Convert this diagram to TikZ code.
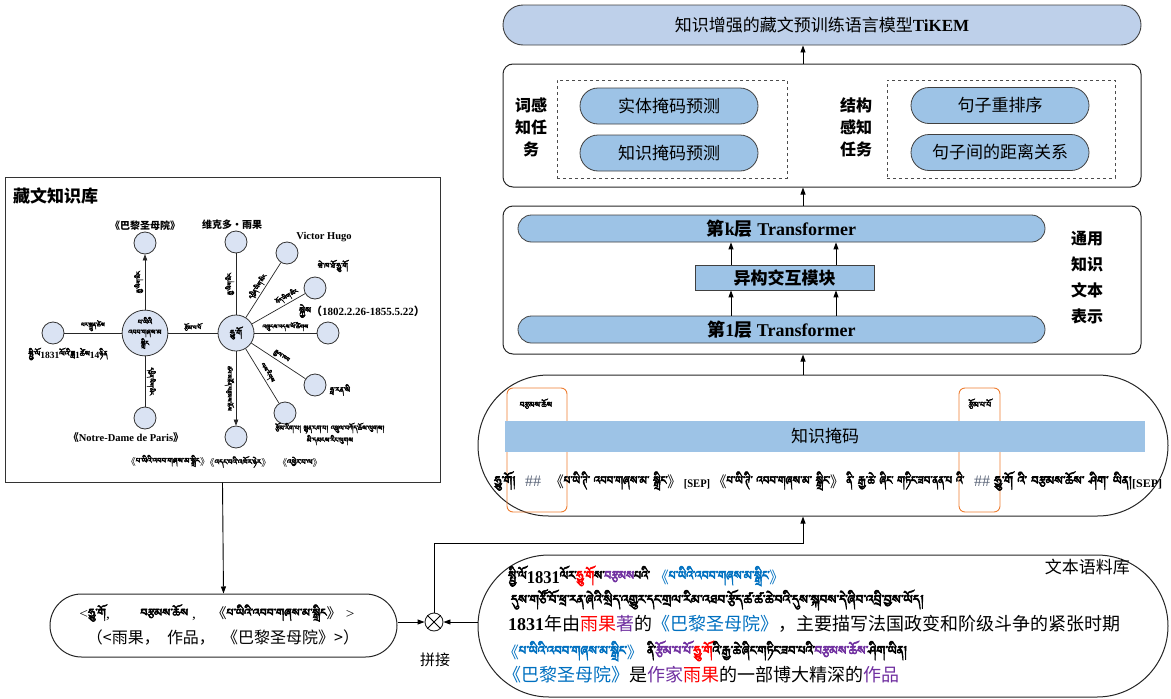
\documentclass[tikz,border=0pt]{standalone}
\usepackage{fontspec}
\usepackage{graphicx}
\setmainfont{Liberation Serif}
\newfontfamily\cjk{Noto Sans CJK SC}
\IfFontExistsTF{Jomolhari}{\newfontfamily\tib[Script=Tibetan,FakeBold=3.5]{Jomolhari}}{%
\IfFontExistsTF{Tibetan Machine Uni}{\newfontfamily\tib[Script=Tibetan,FakeBold=3.5]{Tibetan Machine Uni}}{%
\newfontfamily\tib{DejaVu Sans}}}
\usetikzlibrary{arrows.meta,shapes.misc,calc}
\definecolor{pill}{RGB}{157,195,230}
\definecolor{topfill}{RGB}{190,208,234}
\definecolor{nodefill}{RGB}{218,227,243}
\definecolor{tred}{RGB}{255,0,0}
\definecolor{tpur}{RGB}{112,48,160}
\definecolor{tblue}{RGB}{0,112,192}
\definecolor{orng}{RGB}{237,125,49}
\definecolor{hashc}{RGB}{90,100,120}
\newcommand\cn[1]{{\cjk #1}}
\newcommand\tb[1]{{\tib #1}}
\newcommand\fitw[2]{\resizebox{#1}{\height}{#2}}
\begin{document}
\begin{tikzpicture}[x=1pt,y=-1pt,
  arr/.style={-{Triangle[length=7pt,width=5pt]}, line width=0.9pt},
  garr/.style={-{Triangle[length=6pt,width=4.5pt]}, line width=0.7pt, draw=black!85},
  gl/.style={line width=0.7pt, draw=black!85},
  panel/.style={draw=black!85, line width=1pt, rounded corners=10pt, inner sep=0pt},
  stad/.style={rounded rectangle, draw=black!85, line width=1pt, inner sep=0pt},
  pillnode/.style={rounded rectangle, draw=black!75, fill=pill, line width=0.8pt, inner sep=0pt, font=\cjk\fontsize{17}{20}\selectfont},
  dbox/.style={draw=black!70, dashed, line width=0.8pt, inner sep=0pt},
  stack/.style={align=center, font=\cjk\bfseries\fontsize{16}{22}\selectfont},
  gn/.style={circle, draw=black!80, fill=nodefill, line width=0.8pt, inner sep=0pt, minimum size=22pt},
  el/.style={font=\tib\fontsize{7.5}{8}\selectfont, inner sep=1.5pt},
  lb/.style={font=\bfseries\fontsize{10}{12}\selectfont, inner sep=0pt},
  tibl/.style={font=\tib\fontsize{9.5}{11}\selectfont, inner sep=0pt},
  orbox/.style={draw=orng, rounded corners=6pt, line width=0.9pt, inner sep=0pt}
]
\useasboundingbox (0,0) rectangle (1171,699);
\coordinate (ax) at (803,0);
\coordinate (a1) at (731,0);
\coordinate (a2) at (836,0);

% ---------- top model box
\node[rounded rectangle, draw=black!75, fill=topfill, line width=0.9pt, inner sep=0pt,
      minimum width=638pt, minimum height=40pt, font=\fontsize{17}{20}\selectfont]
      (top) at (822,25) {\cn{知识增强的藏文预训练语言模型}\textbf{TiKEM}};

% ---------- tasks
\node[panel, minimum width=638pt, minimum height=123pt] (tasks) at (822,125.5) {};
\node[dbox, minimum width=230pt, minimum height=98pt] (dl) at (672,129) {};
\node[dbox, minimum width=228pt, minimum height=98pt] (dr) at (1001,129) {};
\node[pillnode, minimum width=178pt, minimum height=36pt] (p1) at (669,106) {实体掩码预测};
\node[pillnode, minimum width=178pt, minimum height=36pt] (p2) at (669,153) {知识掩码预测};
\node[pillnode, minimum width=178pt, minimum height=36pt] (p3) at (1000,105.5) {句子重排序};
\node[pillnode, minimum width=178pt, minimum height=36pt] (p4) at (1000,152.5) {句子间的距离关系};
\node[stack] (lab1) at (531,127) {词感\\知任\\务};
\node[stack] (lab2) at (856,127) {结构\\感知\\任务};
\draw[arr] (ax |- tasks.north) -- (ax |- top.south);

% ---------- transformer
\node[panel, minimum width=638pt, minimum height=148pt] (trans) at (822,280) {};
\node[rounded rectangle, draw=black!75, fill=pill, line width=0.8pt, inner sep=0pt,
      minimum width=527pt, minimum height=27pt, font=\bfseries\fontsize{18}{20}\selectfont]
      (lk) at (781.5,228.5) {\cn{第}k\cn{层} Transformer};
\node[draw=black!75, fill=pill, line width=0.8pt, inner sep=0pt,
      minimum width=179pt, minimum height=25pt, font=\cjk\bfseries\fontsize{17}{20}\selectfont]
      (mod) at (784.5,277.5) {异构交互模块};
\node[rounded rectangle, draw=black!75, fill=pill, line width=0.8pt, inner sep=0pt,
      minimum width=527pt, minimum height=27pt, font=\bfseries\fontsize{18}{20}\selectfont]
      (lone) at (781.5,329.5) {\cn{第}1\cn{层} Transformer};
\draw[arr] (a1 |- lone.north) -- (a1 |- mod.south);
\draw[arr] (a2 |- lone.north) -- (a2 |- mod.south);
\draw[arr] (a1 |- mod.north) -- (a1 |- lk.south);
\draw[arr] (a2 |- mod.north) -- (a2 |- lk.south);
\node[stack, font=\cjk\bfseries\fontsize{16}{26}\selectfont] (lab3) at (1087,278) {通用\\知识\\文本\\表示};
\draw[arr] (ax |- trans.north) -- (ax |- tasks.south);

% ---------- knowledge masking
\node[stad, minimum width=690pt, minimum height=141pt] (mask) at (823,445.5) {};
\draw[arr] (ax |- mask.north) -- (ax |- trans.south);
\node[orbox, minimum width=60pt, minimum height=124pt] (o1) at (537,450) {};
\node[orbox, minimum width=41pt, minimum height=124pt] (o2) at (979.5,450) {};
\node[font=\tib\fontsize{10}{12}\selectfont] (m1) at (536,404) {བརྩམས་ཆོས};
\node[font=\tib\fontsize{10}{12}\selectfont] (m2) at (980,404) {རྩོམ་པ་པོ};
\node[fill=pill, inner sep=0pt, minimum width=640pt, minimum height=31pt,
      font=\cjk\fontsize{17}{20}\selectfont] (bar) at (825,436.5) {知识掩码};
\node[anchor=east, font=\tib\fontsize{15}{16}\selectfont, inner sep=0pt] (t1) at (516,481) {ཧྱུ་གོ།};
\node[font=\fontsize{16}{18}\selectfont, text=hashc, inner sep=0pt] (h1) at (533,481) {\#\#};
\node[anchor=west, font=\fontsize{11.5}{14}\selectfont, inner sep=0pt] (t2) at (550,481)
  {\fitw{414pt}{\cn{\fontsize{15}{16}\selectfont《}\tb{\fontsize{15}{16}\selectfont པ་ཡི་ཊི་ འབབ་གཞས་མ་ སྒྲིང་}\cn{\fontsize{15}{16}\selectfont》} \textbf{[SEP]} \cn{\fontsize{15}{16}\selectfont《}\tb{\fontsize{15}{16}\selectfont པ་ཡི་ཊི་ འབབ་གཞས་མ་ སྒྲིང་}\cn{\fontsize{15}{16}\selectfont》} \tb{\fontsize{15}{16}\selectfont ནི་ རྒྱ་ཆེ་ ཞིང་ གཏིང་ཟབ་ནན་པ འི་}}};
\node[font=\fontsize{16}{18}\selectfont, text=hashc, inner sep=0pt] (h2) at (982,481) {\#\#};
\node[anchor=west, font=\fontsize{11.5}{14}\selectfont, inner sep=0pt] (t3) at (994,481)
  {\fitw{168pt}{\tb{\fontsize{15}{16}\selectfont ཧྱུ་གོ འི་ བརྩམས་ཆོས་ ཤིག་ ཡིན།}\textbf{[SEP]}}};

% ---------- corpus
\node[stad, minimum width=690pt, minimum height=142pt] (corp) at (823,626) {};
\node[anchor=east, font=\cjk\fontsize{17}{20}\selectfont, inner sep=0pt] (ct) at (1130,567) {文本语料库};
\node[anchor=base west, inner sep=0pt, font=\tib\fontsize{16}{16}\selectfont] (c1) at (508,583)
  {\fitw{276pt}{སྤྱི་ལོ{\rmfamily\bfseries\fontsize{18}{20}\selectfont 1831}ལོར་\textcolor{tred}{ཧྱུ་གོ}ས་\textcolor{tpur}{བརྩམས}པའི་ \textcolor{tblue}{\cn{《}པ་ཡིའི་འབབ་གཞས་མ་སྒྲིང་\cn{》}}}};
\node[anchor=base west, inner sep=0pt, font=\tib\fontsize{16}{16}\selectfont] (c2) at (511,607)
  {\fitw{413pt}{དུས་གཙོ་བོ་ཕྲ་རན་ཞེའི་སྲིད་འགྱུར་དང་གྲལ་རིམ་འཐབ་རྩོད་ཚ་ཚ་ཆེ་བའི་དུས་སྐབས་དེ་ཞིབ་འབྲི་བྱས་ཡོད།}};
\node[anchor=base west, inner sep=0pt, font=\cjk\fontsize{18}{20}\selectfont] (c3) at (508,630)
  {{\rmfamily\bfseries 1831}年由\textcolor{tred}{雨果}\textcolor{tpur}{著}的\textcolor{tblue}{《巴黎圣母院》}，主要描写法国政变和阶级斗争的紧张时期};
\node[anchor=base west, inner sep=0pt, font=\tib\fontsize{16}{16}\selectfont] (c4) at (503,658)
  {\fitw{404pt}{\textcolor{tblue}{\cn{《}པ་ཡིའི་འབབ་གཞས་མ་སྒྲིང་\cn{》}} ནི་\textcolor{tpur}{རྩོམ་པ་པོ་}\textcolor{tred}{ཧྱུ་གོ}འི་རྒྱ་ཆེ་ཞིང་གཏིང་ཟབ་པའི་\textcolor{tpur}{བརྩམས་ཆོས་}ཤིག་ཡིན།}};
\node[anchor=base west, inner sep=0pt, font=\cjk\fontsize{18}{20}\selectfont] (c5) at (503,681)
  {\textcolor{tblue}{《巴黎圣母院》}是\textcolor{tpur}{作家}\textcolor{tred}{雨果}的一部博大精深的\textcolor{tpur}{作品}};

% ---------- concat
\node[circle, draw=black!85, line width=0.9pt, minimum size=18pt, inner sep=0pt] (circ) at (434,622) {};
\draw[line width=0.8pt] (circ.north east) -- (circ.south west) (circ.north west) -- (circ.south east);
\node[font=\cjk\fontsize{15}{18}\selectfont] (pj) at (435,660) {拼接};

% ---------- triple
\node[stad, minimum width=347pt, minimum height=63pt] (tri) at (223.5,625.5) {};
\node[font=\fontsize{14}{16}\selectfont, inner sep=0pt] (tr1) at (217,613)
  {\fitw{275pt}{<\tb{\fontsize{13.5}{14}\selectfont ཧྱུ་གོ},\qquad\tb{\fontsize{13.5}{14}\selectfont བརྩམས་ཆོས} ,\quad\cn{《}\tb{\fontsize{13.5}{14}\selectfont པ་ཡིའི་འབབ་གཞས་མ་སྒྲིང}\cn{》} >}};
\node[font=\cjk\fontsize{16}{18}\selectfont, inner sep=0pt] (tr2) at (223,638)
  {（<雨果，\ \ 作品，\ \ 《巴黎圣母院》>）};

% ---------- knowledge base
\node[draw=black!80, line width=1pt, minimum width=435pt, minimum height=305pt, inner sep=0pt] (kb) at (222.5,329.5) {};
\node[anchor=west, font=\cjk\bfseries\fontsize{17}{20}\selectfont, inner sep=0pt] (kbt) at (13,196) {藏文知识库};

\node[gn, minimum size=40pt, font=\tib\fontsize{8.5}{10}\selectfont, align=center] (A) at (145,333) {པ་ཡིའི\\འབབ་གཞས་མ\\སྒྲིང};
\node[gn, minimum size=36pt, font=\tib\fontsize{10}{11}\selectfont] (B) at (236,333) {ཧྱུ་གོ};
\node[gn] (nT) at (145,243) {};
\node[gn] (nL) at (53,333) {};
\node[gn] (nB) at (145,418) {};
\node[gn] (bT) at (236,242) {};
\node[gn] (vh) at (287,253) {};
\node[gn] (wk) at (315,288) {};
\node[gn] (rt) at (328,333) {};
\node[gn] (lr) at (315,385) {};
\node[gn] (lo) at (285,413) {};
\node[gn] (bb) at (236,437) {};

\draw[garr] (A) -- node[el, sloped, above] {རྒྱ་ཡིག་མིང} (nT);
\draw[gl] (A) -- node[el, above] {པར་སྐྲུན་ཚེས} (nL);
\draw[gl] (A) -- node[el, sloped, above] {དབྱིན་ཡིག་མིང} (nB);
\draw[gl] (A) -- node[el, above] {རྩོམ་པ་པོ} (B);
\draw[gl] (B) -- node[el, sloped, above] {རྒྱ་ཡིག་མིང} (bT);
\draw[gl] (B) -- node[el, sloped, above, pos=0.5] {དབྱིན་ཡིག་མིང} (vh);
\draw[gl] (B) -- node[el, sloped, above, pos=0.72] {བོད་ཡིག་མིང} (wk);
\draw[gl] (B) -- node[el, above] {འཁྲུངས་འདས་ལོ་ཚིགས} (rt);
\draw[gl] (B) -- node[el, sloped, above] {རྒྱལ་ཁབ} (lr);
\draw[gl] (B) -- node[el, sloped, above] {ལས་རིགས} (lo);
\draw[garr] (B) -- node[el, sloped, below] {ཚབ་མཚོན་བརྩམས་ཆོས} (bb);

\node[lb, font=\cjk\bfseries\fontsize{10}{12}\selectfont] (lT) at (145,226) {《巴黎圣母院》};
\node[font=\bfseries\fontsize{9.5}{11}\selectfont, inner sep=0pt] (lL) at (68,354) {\tb{སྤྱི་ལོ}1831\tb{ལོའི་ཟླ}1\tb{ཚེས}14\tb{ཉིན}};
\node[lb, font=\bfseries\fontsize{10.5}{12}\selectfont] (lB) at (126,438) {\cn{《}Notre-Dame de Paris\cn{》}};
\node[lb, font=\cjk\bfseries\fontsize{10}{12}\selectfont] (lbT) at (232,225) {维克多•雨果};
\node[lb, font=\bfseries\fontsize{10.5}{12}\selectfont] (lvh) at (324,237) {Victor Hugo};
\node[tibl] (lwk) at (333,266) {ཝེ་ཁ་ཐོ་ཧྱུ་གོ};
\node[lb, font=\bfseries\fontsize{11}{13}\selectfont] (lrt) at (362,311) {\tb{སྐྱེས}\cn{（}1802.2.26-1855.5.22\cn{）}};
\node[tibl] (llr) at (340,390) {ཧྥ་རན་སི};
\node[tibl, align=center, font=\tib\fontsize{8.5}{12}\selectfont] (llo) at (330,434) {རྩོམ་རིག་པ། སྙན་ངག་པ། འཕྲུལ་བཀོད་ཆོས་ལུགས།\\མི་དམངས་རིང་ལུགས};
\node[tibl] (lb1) at (168,461) {\cn{《}པ་ཡིའི་འབབ་གཞས་མ་སྒྲིང\cn{》}};
\node[tibl] (lb2) at (238,462) {\cn{《}འདང་བའི་འཁོར་ཉེར\cn{》}};
\node[tibl] (lb3) at (300,462) {\cn{《}འཕྱེར་བ་ལ\cn{》}};

% ---------- connectors
\draw[arr] (kb.south) -- (tri.north);
\draw[arr] (tri.east |- circ) -- (circ.west);
\draw[arr] (corp.west |- circ) -- (circ.east);
\draw[arr] (circ.north) |- ($(ax |- mask.south)+(0,27)$) -- (ax |- mask.south);
\end{tikzpicture}
\end{document}
